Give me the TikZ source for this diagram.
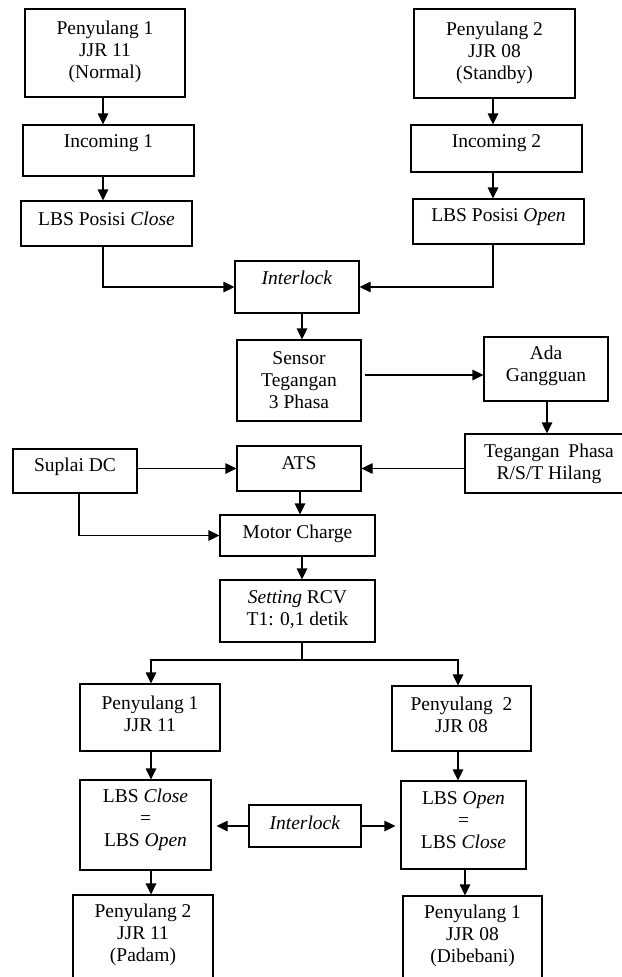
\documentclass[tikz,border=0pt]{standalone}
\usepackage{fontspec}
\setmainfont{Liberation Serif}
\usetikzlibrary{arrows.meta}

% \flowbox{name}{cx}{cy}{width}{height}{text lift}{text}
\newcommand\flowbox[7]{%
  \node[frame, minimum width=#4pt, minimum height=#5pt] (#1) at (#2,#3) {};
  \node[txt] (#1-txt) at (#2,#3-#6) {#7};%
}

\begin{document}
\begin{tikzpicture}[x=1pt,y=-1pt,
  frame/.style={draw, line width=1.15pt, inner sep=0pt},
  txt/.style={align=center, inner sep=0pt, font=\fontsize{19.5}{22}\selectfont},
  arr/.style={line width=1.15pt, -{Triangle[length=11pt,width=10.5pt]}},
  wire/.style={line width=1.15pt}]
\useasboundingbox (0,0) rectangle (621,977);

% upper part: the two feeders
\flowbox{p1}{105}{53}{160}{88}{1}{Penyulang 1\\JJR 11\\(Normal)}
\flowbox{inc1}{108.5}{150.5}{171}{51}{7}{Incoming 1}
\flowbox{lbs1}{106.5}{223.5}{171}{45}{5}{LBS Posisi \textit{Close}}
\flowbox{p2}{494.5}{53.5}{161}{89}{1}{Penyulang 2\\JJR 08\\(Standby)}
\flowbox{inc2}{496.5}{148.5}{171}{47}{5}{Incoming 2}
\flowbox{lbs2}{498.5}{221.5}{171}{45}{4}{LBS Posisi \textit{Open}}
\flowbox{intl}{297}{287}{124}{52}{9}{\textit{Interlock}}

% sensing and switching
\flowbox{sensor}{299}{380.5}{124}{81}{0}{Sensor\\Tegangan\\3 Phasa}
\flowbox{ada}{546}{369}{124}{64}{3}{Ada\\Gangguan}
\flowbox{teg}{549}{463.5}{168}{59}{0}{Tegangan\hspace{0.2em} Phasa\\R/S/T Hilang}
\flowbox{ats}{299}{468.5}{124}{45}{5}{ATS}
\flowbox{dc}{75}{471}{124}{44}{4}{Suplai DC}
\flowbox{motor}{297.5}{535.5}{155}{41}{2}{Motor Charge}
\flowbox{rcv}{297.5}{611}{155}{62}{1}{\textit{Setting} RCV\\T1: 0,1 detik}

% lower part: transfer result
\flowbox{p1b}{150}{717.5}{140}{67}{4}{Penyulang 1\\JJR 11}
\flowbox{p2b}{461.5}{718.5}{139}{65}{3.5}{Penyulang\ \ 2\\JJR 08}
\flowbox{lbsL}{145.5}{825}{131}{90}{5}{LBS \textit{Close}\\=\\LBS \textit{Open}}
\flowbox{lbsR}{463.5}{825}{125}{88}{5}{LBS \textit{Open}\\=\\LBS \textit{Close}}
\flowbox{intl2}{305}{826}{112}{42}{3}{\textit{Interlock}}
\flowbox{fL}{143}{940}{140}{90}{5}{Penyulang 2\\JJR 11\\(Padam)}
\flowbox{fR}{472.5}{940.5}{139}{89}{5}{Penyulang 1\\JJR 08\\(Dibebani)}

% columns and rows for the connectors
\coordinate (xa) at (103,0);
\coordinate (xb) at (493,0);
\coordinate (xm) at (302,0);
\coordinate (xn) at (300,0);
\coordinate (xg) at (547,0);
\coordinate (xd) at (79,0);
\coordinate (xl) at (151,0);
\coordinate (xr) at (458,0);
\coordinate (xs) at (465,0);
\coordinate (ys) at (0,375);
\coordinate (split) at (302,660);

\draw[arr] (p1.south -| xa) -- (inc1.north -| xa);
\draw[arr] (inc1.south -| xa) -- (lbs1.north -| xa);
\draw[arr] (lbs1.south -| xa) |- (intl.west);
\draw[arr] (p2.south -| xb) -- (inc2.north -| xb);
\draw[arr] (inc2.south -| xb) -- (lbs2.north -| xb);
\draw[arr] (lbs2.south -| xb) |- (intl.east);
\draw[arr] (intl.south -| xm) -- (sensor.north -| xm);
\draw[arr] ([xshift=3pt]sensor.east |- ys) -- (ada.west |- ys);
\draw[arr] (ada.south -| xg) -- (teg.north -| xg);
\draw[arr] (teg.west |- ats.east) -- (ats.east);
\draw[arr] (dc.east |- ats.west) -- (ats.west);
\draw[arr] (dc.south -| xd) |- (motor.west);
\draw[arr] (ats.south -| xn) -- (motor.north -| xn);
\draw[arr] (motor.south -| xm) -- (rcv.north -| xm);
\draw[wire] (rcv.south -| xm) -- (split);
\draw[arr] (split) -| (p1b.north -| xl);
\draw[arr] (split) -| (p2b.north -| xr);
\draw[arr] (p1b.south -| xl) -- (lbsL.north -| xl);
\draw[arr] (p2b.south -| xr) -- (lbsR.north -| xr);
\draw[arr, shorten >=5pt] (intl2.west) -- (lbsL.east |- intl2.west);
\draw[arr, shorten >=5pt] (intl2.east) -- (lbsR.west |- intl2.east);
\draw[arr] (lbsL.south -| xl) -- (fL.north -| xl);
\draw[arr] (lbsR.south -| xs) -- (fR.north -| xs);
\end{tikzpicture}
\end{document}
